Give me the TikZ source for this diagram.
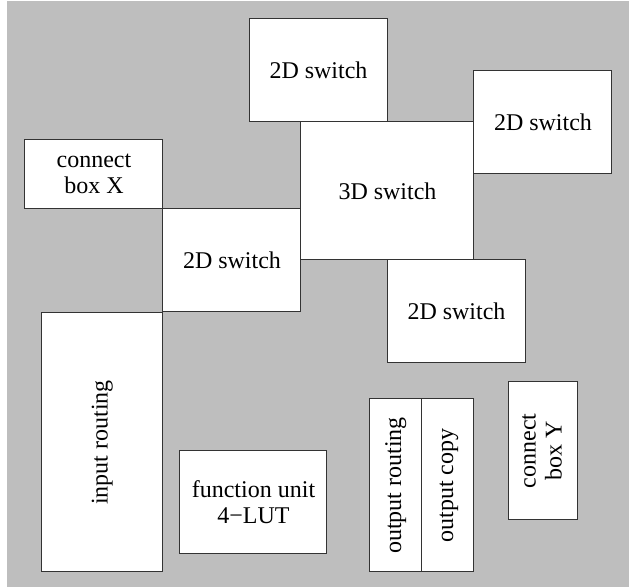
\documentclass[tikz,border=0pt]{standalone}
\usepackage{fontspec}
\setmainfont{Liberation Serif}
\usetikzlibrary{positioning}
\definecolor{bggray}{HTML}{BEBEBE}
\definecolor{edge}{HTML}{333333}
\newcommand{\vlabel}[1]{\rotatebox{90}{\begin{tabular}{@{}c@{}}#1\end{tabular}}}
\tikzset{
  every node/.style={font=\fontsize{12}{13}\selectfont},
  blk/.style={draw=edge,fill=white,line width=0.5pt,align=center,inner sep=0pt,outer sep=0pt},
  sw2/.style={blk,minimum width=69pt,minimum height=51.5pt},
  sw3box/.style={blk,minimum width=86.5pt,minimum height=69pt},
  outbox/.style={blk,minimum width=26pt,minimum height=86.5pt}
}
\begin{document}
\begin{tikzpicture}[x=0.5pt,y=-0.5pt]
  \useasboundingbox (0,0) rectangle (629,587);
  \fill[bggray] (7,1) rectangle (629,587);

  \node[sw3box] (sw3) at (387.5,191) {3D switch};
  \node[sw2,anchor=south east] (swtop) at (sw3.north) {2D switch};
  \node[sw2,anchor=west] (swright) at (sw3.north east) {2D switch};
  \node[sw2,anchor=north west] (swbot) at (sw3.south) {2D switch};
  \node[sw2,anchor=east] (swleft) at (sw3.south west) {2D switch};
  \node[blk,minimum width=69pt,minimum height=34.5pt,anchor=south east] (boxX) at (swleft.north west) {connect\\box X};
  \node[blk,minimum width=60.5pt,minimum height=129.5pt,anchor=north east,yshift=-0.75pt] (inroute) at (swleft.south west) {\vlabel{input routing}};

  \node[blk,minimum width=73.5pt,minimum height=51.5pt] (func) at (253.5,502.5) {function unit\\4−LUT};
  \node[outbox] (outroute) at (396,485.5) {\vlabel{output routing}};
  \node[outbox,anchor=west] (outcopy) at (outroute.east) {\vlabel{output copy}};
  \node[blk,minimum width=34.5pt,minimum height=69pt] (boxY) at (543.5,451) {\vlabel{connect\\box Y}};
\end{tikzpicture}
\end{document}
